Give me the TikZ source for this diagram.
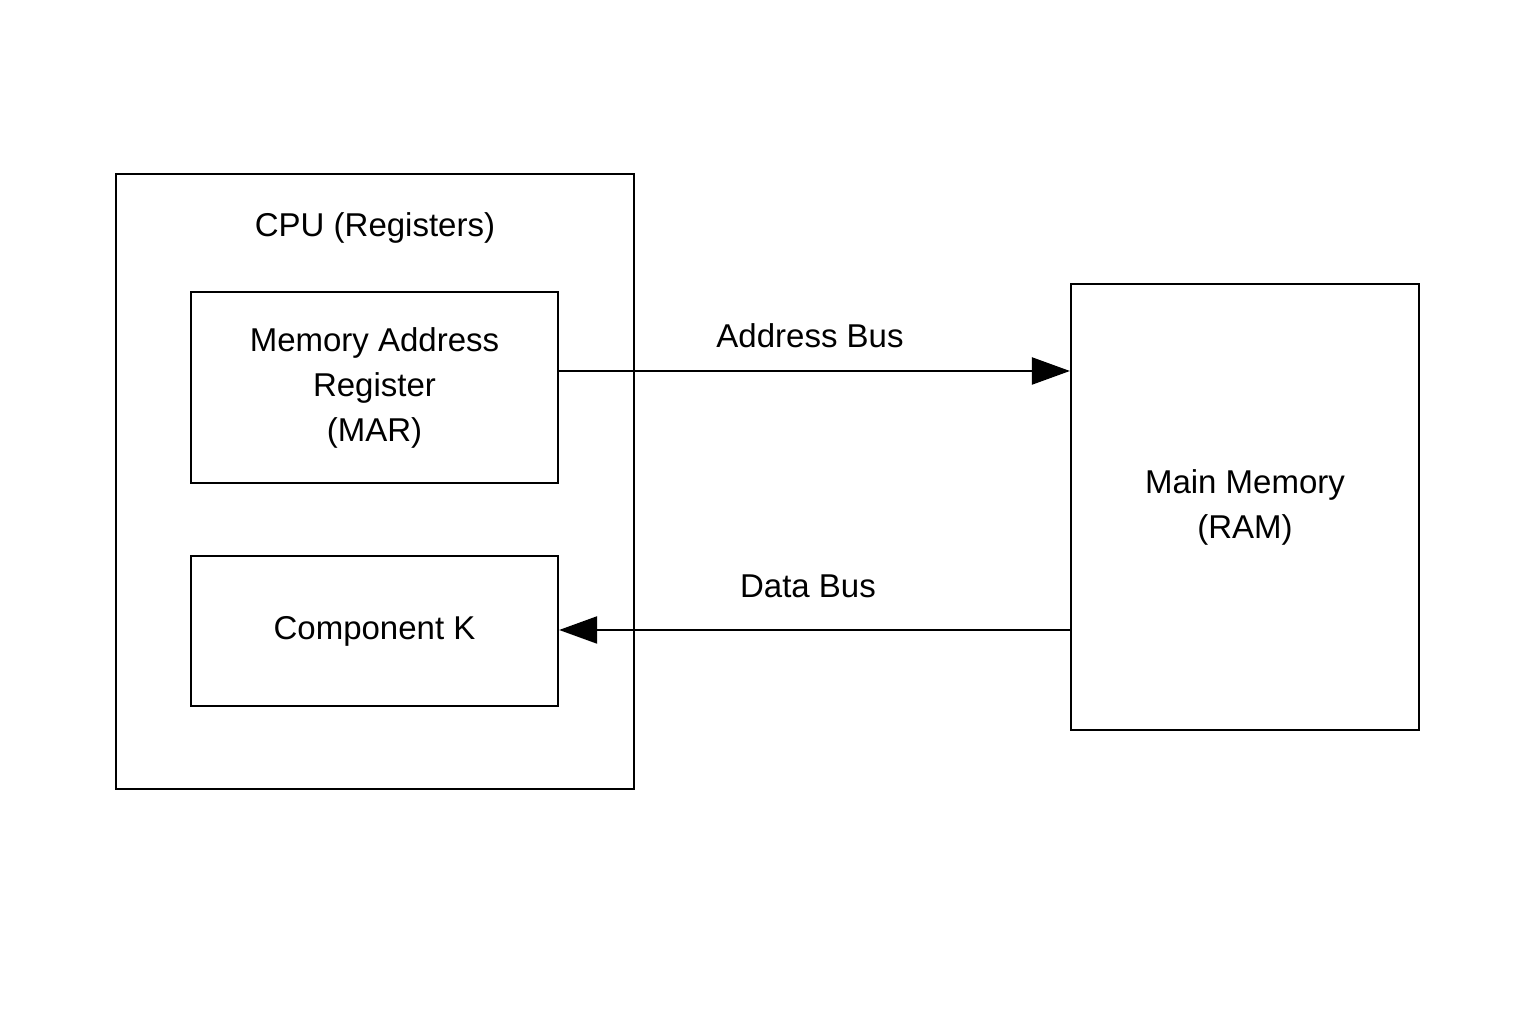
\documentclass[tikz,border=0pt]{standalone}
\usepackage{fontspec}
\setmainfont{Liberation Sans}
\usetikzlibrary{arrows.meta}
\tikzset{
  box/.style={draw=black,line width=2.2pt,inner sep=0pt,align=center,font=\fontsize{33}{45}\selectfont},
  bus/.style={draw=black,line width=2.2pt,-{Triangle[length=38pt,width=27pt]}},
  lbl/.style={inner sep=0pt,font=\fontsize{33}{40}\selectfont}
}
\begin{document}
\begin{tikzpicture}[x=1pt,y=1pt]
\path[use as bounding box,fill=white] (0,0) rectangle (1536,1024);

% CPU
\node[box,minimum width=518pt,minimum height=615pt] (cpu) at (375,542.5) {};
\node[lbl] (cpulbl) at (375,796) {CPU (Registers)};
\node[box,minimum width=367pt,minimum height=191pt] (mar) at (374.5,636.5) {Memory Address\\Register\\(MAR)};
\node[box,minimum width=367pt,minimum height=150pt] (compk) at (374.5,393) {Component K};

% memory
\node[box,minimum width=348pt,minimum height=446pt] (ram) at (1245,517) {Main Memory\\(RAM)};

% buses
\coordinate (addrend) at (ram.west |- 0,653);
\coordinate (datastart) at (ram.west |- 0,394);
\draw[bus] (mar.east |- addrend) -- (addrend);
\draw[bus] (datastart) -- (compk.east |- datastart);
\node[lbl] (addrlbl) at (810,688) {Address Bus};
\node[lbl] (datalbl) at (808,438) {Data Bus};
\end{tikzpicture}
\end{document}
